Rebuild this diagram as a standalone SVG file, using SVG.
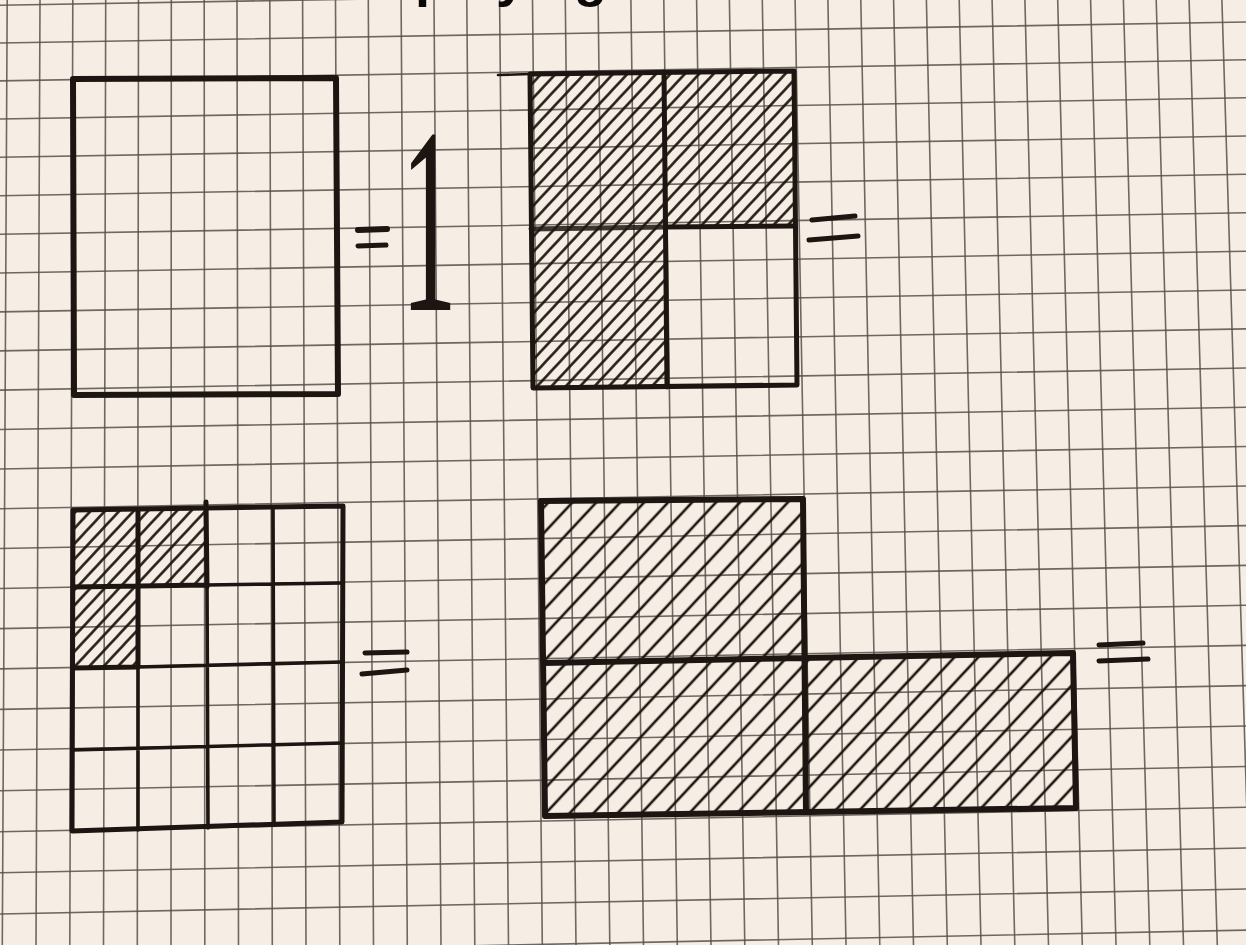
<svg xmlns="http://www.w3.org/2000/svg" width="1246" height="945" viewBox="0 0 1246 945">
<defs>
<style>
.grid{fill:none;stroke:#57504a;stroke-width:1.6;stroke-opacity:0.85}
.ink{fill:none;stroke:#1c1511;stroke-linecap:round;stroke-linejoin:round}
.w6{stroke-width:6}
.w5{stroke-width:5}
.w4{stroke-width:3.6}
.w3{stroke-width:2.6}
.hatchA{fill:url(#hA);stroke:none}
.hatchB{fill:url(#hB);stroke:none}
.heading{font-family:"Liberation Sans",Arial,sans-serif;font-weight:bold;font-size:54px;fill:#0a0a0a}
.one{font-family:"Liberation Serif","Times New Roman",serif;font-size:266px;fill:#1c1511}
</style>
<pattern id="hA" width="10.5" height="10.5" patternUnits="userSpaceOnUse" patternTransform="rotate(43)">
<line x1="5.25" y1="-1" x2="5.25" y2="11.5" stroke="#1c1511" stroke-width="2.5"/>
</pattern>
<pattern id="hB" width="17.5" height="17.5" patternUnits="userSpaceOnUse" patternTransform="rotate(43)">
<line x1="8.75" y1="-1" x2="8.75" y2="18.5" stroke="#1c1511" stroke-width="2.6"/>
</pattern>
</defs>
<rect x="0" y="0" width="1246" height="945" fill="#f6eee4"/>
<g id="grid">
<path class="grid" d="M0,5.2L1246,-15.7 M0,43L1246,22 M0,80.9L1246,59.8 M0,119L1246,97.8 M0,157.3L1246,136 M0,195.7L1246,174.3 M0,234.3L1246,212.7 M0,273L1246,251.3 M0,311.9L1246,290 M0,350.9L1246,328.9 M0,390.1L1246,368 M0,429.5L1246,407.2 M0,469L1246,446.5 M0,508.7L1246,486 M0,548.5L1246,525.6 M0,588.5L1246,565.4 M0,628.6L1246,605.3 M0,668.9L1246,645.4 M0,709.4L1246,685.6 M0,750L1246,726 M0,790.8L1246,766.5 M0,831.7L1246,807.2 M0,872.8L1246,848 M0,914L1246,889 M0,955.4L1246,930.1"/>
<path class="grid" d="M7.2,0L2.3,945 M40,0L36,945 M72.8,0L69.8,945 M105.7,0L103.5,945 M138.5,0L137.3,945 M171.3,0L171,945 M204.2,0L204.8,945 M237,0L238.5,945 M269.8,0L272.3,945 M302.6,0L306,945 M335.5,0L339.8,945 M368.3,0L373.5,945 M401.1,0L407.3,945 M434,0L441,945 M466.8,0L474.8,945 M499.6,0L508.5,945 M532.5,0L542.3,945 M565.3,0L576,945 M598.1,0L609.8,945 M630.9,0L643.5,945 M663.8,0L677.3,945 M696.6,0L711,945 M729.4,0L744.8,945 M762.3,0L778.5,945 M795.1,0L812.3,945 M827.9,0L846,945 M860.8,0L879.8,945 M893.6,0L913.5,945 M926.4,0L947.3,945 M959.2,0L981,945 M992.1,0L1014.8,945 M1024.9,0L1048.5,945 M1057.7,0L1082.3,945 M1090.6,0L1116,945 M1123.4,0L1149.8,945 M1156.2,0L1183.5,945 M1189.1,0L1217.3,945 M1221.9,0L1251,945"/>
</g>
<g id="heading">
<text class="heading" x="316" y="-4">Simplifying</text>
</g>
<g id="fig1-whole">
<path class="ink w6" d="M73,79 L336,78 L338,394 L74,395 Z"/>
</g>
<g id="eq1">
<path class="ink w6" d="M358,230 L387,229"/>
<path class="ink w5" d="M358,246 L386,245"/>
</g>
<g id="one">
<text class="one" text-anchor="middle" transform="translate(429,310) scale(0.42,1)">1</text>
</g>
<g id="fig2-quarters">
<polygon class="hatchA" points="530,74 664,72 665,227 531,229"/>
<polygon class="hatchA" points="664,72 794,71 795,226 665,227"/>
<polygon class="hatchA" points="531,229 665,227 667,387 533,388"/>
<path class="ink w3" d="M498,75 L530,74"/>
<path class="ink w5" d="M530,74 L794,71 L797,385 L533,388 Z"/>
<path class="ink w5" d="M664,72 L667,387"/>
<path class="ink w5" d="M665,227 L795,226"/>
<path class="ink w5" d="M531,229 L665,227" stroke="#4a3a30" stroke-opacity="0.85"/>
</g>
<g id="eq2">
<path class="ink w5" d="M812,220 L855,216"/>
<path class="ink w5" d="M809,240 L858,236"/>
</g>
<g id="fig3-sixteenths">
<polygon class="hatchA" points="73,510 138,509 138,587 73,587"/>
<polygon class="hatchA" points="138,509 207,508 207,585 138,586"/>
<polygon class="hatchA" points="73,587 138,586 138,667 73,668"/>
<path class="ink w4" d="M273,507 L274,825 M207,585 L208,828 M138,667 L138,830 M207,585 L342,583 M138,667 L342,662 M72,750 L342,743"/>
<path class="ink w5" d="M73,587 L207,585 M138,510 L138,667 M206,502 L207,587 M73,668 L138,667"/>
<path class="ink w5" d="M73,510 L343,506 L342,822 L72,831 Z"/>
</g>
<g id="eq3">
<path class="ink w5" d="M365,653 L407,652"/>
<path class="ink w5" d="M362,674 L407,670"/>
</g>
<g id="fig4-three-quarters">
<polygon class="hatchB" points="541,501 803,499 805,658 1073,653 1076,808 545,816"/>
<path class="ink w6" d="M541,501 L803,499 L806,812 M541,501 L545,816 L1076,808 L1073,653 L543,663"/>
</g>
<g id="eq4">
<path class="ink w5" d="M1099,645 L1143,643"/>
<path class="ink w5" d="M1099,661 L1148,659"/>
</g>
<g id="connectors"></g>
</svg>
